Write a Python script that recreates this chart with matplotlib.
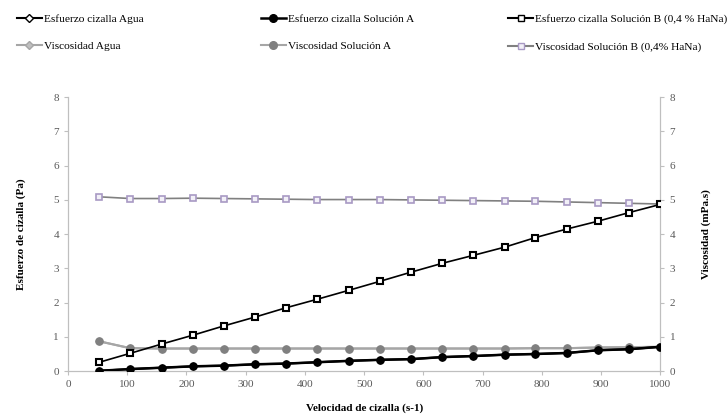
import matplotlib
matplotlib.use("Agg")
import matplotlib.pyplot as plt
from matplotlib.lines import Line2D

plt.rcParams['font.family'] = ['Liberation Serif', 'DejaVu Serif']

# shear rate (s-1)
rate = [53, 105, 158, 211, 263, 316, 368, 421, 474, 526,
        579, 632, 684, 737, 789, 842, 895, 947, 1000]

# shear stress (Pa)
stress_agua = [0.01, 0.06, 0.10, 0.14, 0.16, 0.20, 0.22, 0.26, 0.30, 0.33,
               0.35, 0.41, 0.44, 0.48, 0.50, 0.53, 0.61, 0.64, 0.71]
stress_a = [0.01, 0.06, 0.10, 0.14, 0.16, 0.20, 0.22, 0.26, 0.30, 0.33,
            0.35, 0.41, 0.44, 0.48, 0.50, 0.53, 0.61, 0.64, 0.71]
stress_b = [0.26, 0.52, 0.79, 1.05, 1.32, 1.58, 1.85, 2.10, 2.36, 2.62,
            2.89, 3.15, 3.38, 3.62, 3.90, 4.15, 4.38, 4.63, 4.87]

# viscosity (mPa.s)
visc_agua = [0.87, 0.67, 0.66, 0.66, 0.66, 0.66, 0.66, 0.66, 0.66, 0.66,
             0.66, 0.66, 0.66, 0.66, 0.67, 0.67, 0.69, 0.70, 0.71]
visc_a = [0.87, 0.67, 0.66, 0.66, 0.66, 0.66, 0.66, 0.66, 0.66, 0.66,
          0.66, 0.66, 0.66, 0.66, 0.67, 0.67, 0.69, 0.70, 0.71]
visc_b = [5.09, 5.04, 5.04, 5.05, 5.04, 5.03, 5.02, 5.01, 5.01, 5.01,
          5.00, 4.99, 4.98, 4.97, 4.96, 4.94, 4.92, 4.90, 4.88]

grey_txt = '#595959'
spine_c = '#bfbfbf'
lav = '#a899c4'

fig = plt.figure(figsize=(7.27, 4.17), dpi=100)
ax = fig.add_axes([0.0935, 0.110, 0.815, 0.657])
ax2 = ax.twinx()

# water series first (hidden under solution A, as in the original)
ax.plot(rate, stress_agua, color='black', lw=1.5, marker='D', ms=3.5,
        mfc='white', mec='black', zorder=2)
ax.plot(rate, stress_a, color='black', lw=1.8, marker='o', ms=5.2,
        mfc='black', mec='black', zorder=3)
ax.plot(rate, stress_b, color='black', lw=1.2, marker='s', ms=4.3,
        mfc='white', mec='black', mew=1.5, zorder=4)

ax2.plot(rate, visc_agua, color='#a6a6a6', lw=1.5, marker='D', ms=3.5,
         mfc='#bfbfbf', mec='#a6a6a6', zorder=2)
ax2.plot(rate, visc_a, color='#a6a6a6', lw=1.5, marker='o', ms=5.2,
         mfc='#808080', mec='#808080', zorder=3)
ax2.plot(rate, visc_b, color='#808080', lw=1.2, marker='s', ms=4.3,
         mfc='#f2f0f7', mec=lav, mew=1.2, zorder=4)

# stress lines drawn above viscosity lines
ax.set_zorder(ax2.get_zorder() + 1)
ax.patch.set_visible(False)

for a in (ax, ax2):
    a.set_xlim(0, 1000)
    a.set_ylim(0, 8)
    for s in a.spines.values():
        s.set_color(spine_c)
    a.spines['top'].set_visible(False)
    a.tick_params(colors=spine_c, labelcolor=grey_txt, labelsize=8,
                  length=3, direction='out')

ax.set_xticks(range(0, 1001, 100))
ax.set_yticks(range(0, 9))
ax2.set_yticks(range(0, 9))

ax.set_xlabel('Velocidad de cizalla (s-1)', fontsize=8, fontweight='bold',
              labelpad=10)
ax.set_ylabel('Esfuerzo de cizalla (Pa)', fontsize=8, fontweight='bold',
              labelpad=20)
ax2.set_ylabel('Viscosidad (mPa.s)', fontsize=8, fontweight='bold',
               labelpad=19)

# legend: three columns, placed one by one
def h(color, marker, mfc, mec, ms, lw=1.5):
    return Line2D([], [], color=color, lw=lw, marker=marker, ms=ms,
                  mfc=mfc, mec=mec)

cols = [
    ([h('black', 'D', 'white', 'black', 4),
      h('#a6a6a6', 'D', '#bfbfbf', '#a6a6a6', 4)],
     ['Esfuerzo cizalla Agua', 'Viscosidad Agua'], 0.012),
    ([h('black', 'o', 'black', 'black', 5.5, 1.8),
      h('#a6a6a6', 'o', '#808080', '#808080', 5.5)],
     ['Esfuerzo cizalla Solución A', 'Viscosidad Solución A'], 0.348),
    ([h('black', 's', 'white', 'black', 4.5),
      h('#808080', 's', '#f2f0f7', lav, 4.5)],
     ['Esfuerzo cizalla Solución B (0,4 % HaNa)',
      'Viscosidad Solución B (0,4% HaNa)'], 0.688),
]
for handles, labels, x0 in cols:
    fig.legend(handles, labels, loc='upper left', bbox_to_anchor=(x0, 0.985),
               frameon=False, fontsize=8.2, handlelength=2.2,
               handletextpad=0.2, labelspacing=1.5, borderaxespad=0.3)

fig.savefig('out.png', dpi=100)
